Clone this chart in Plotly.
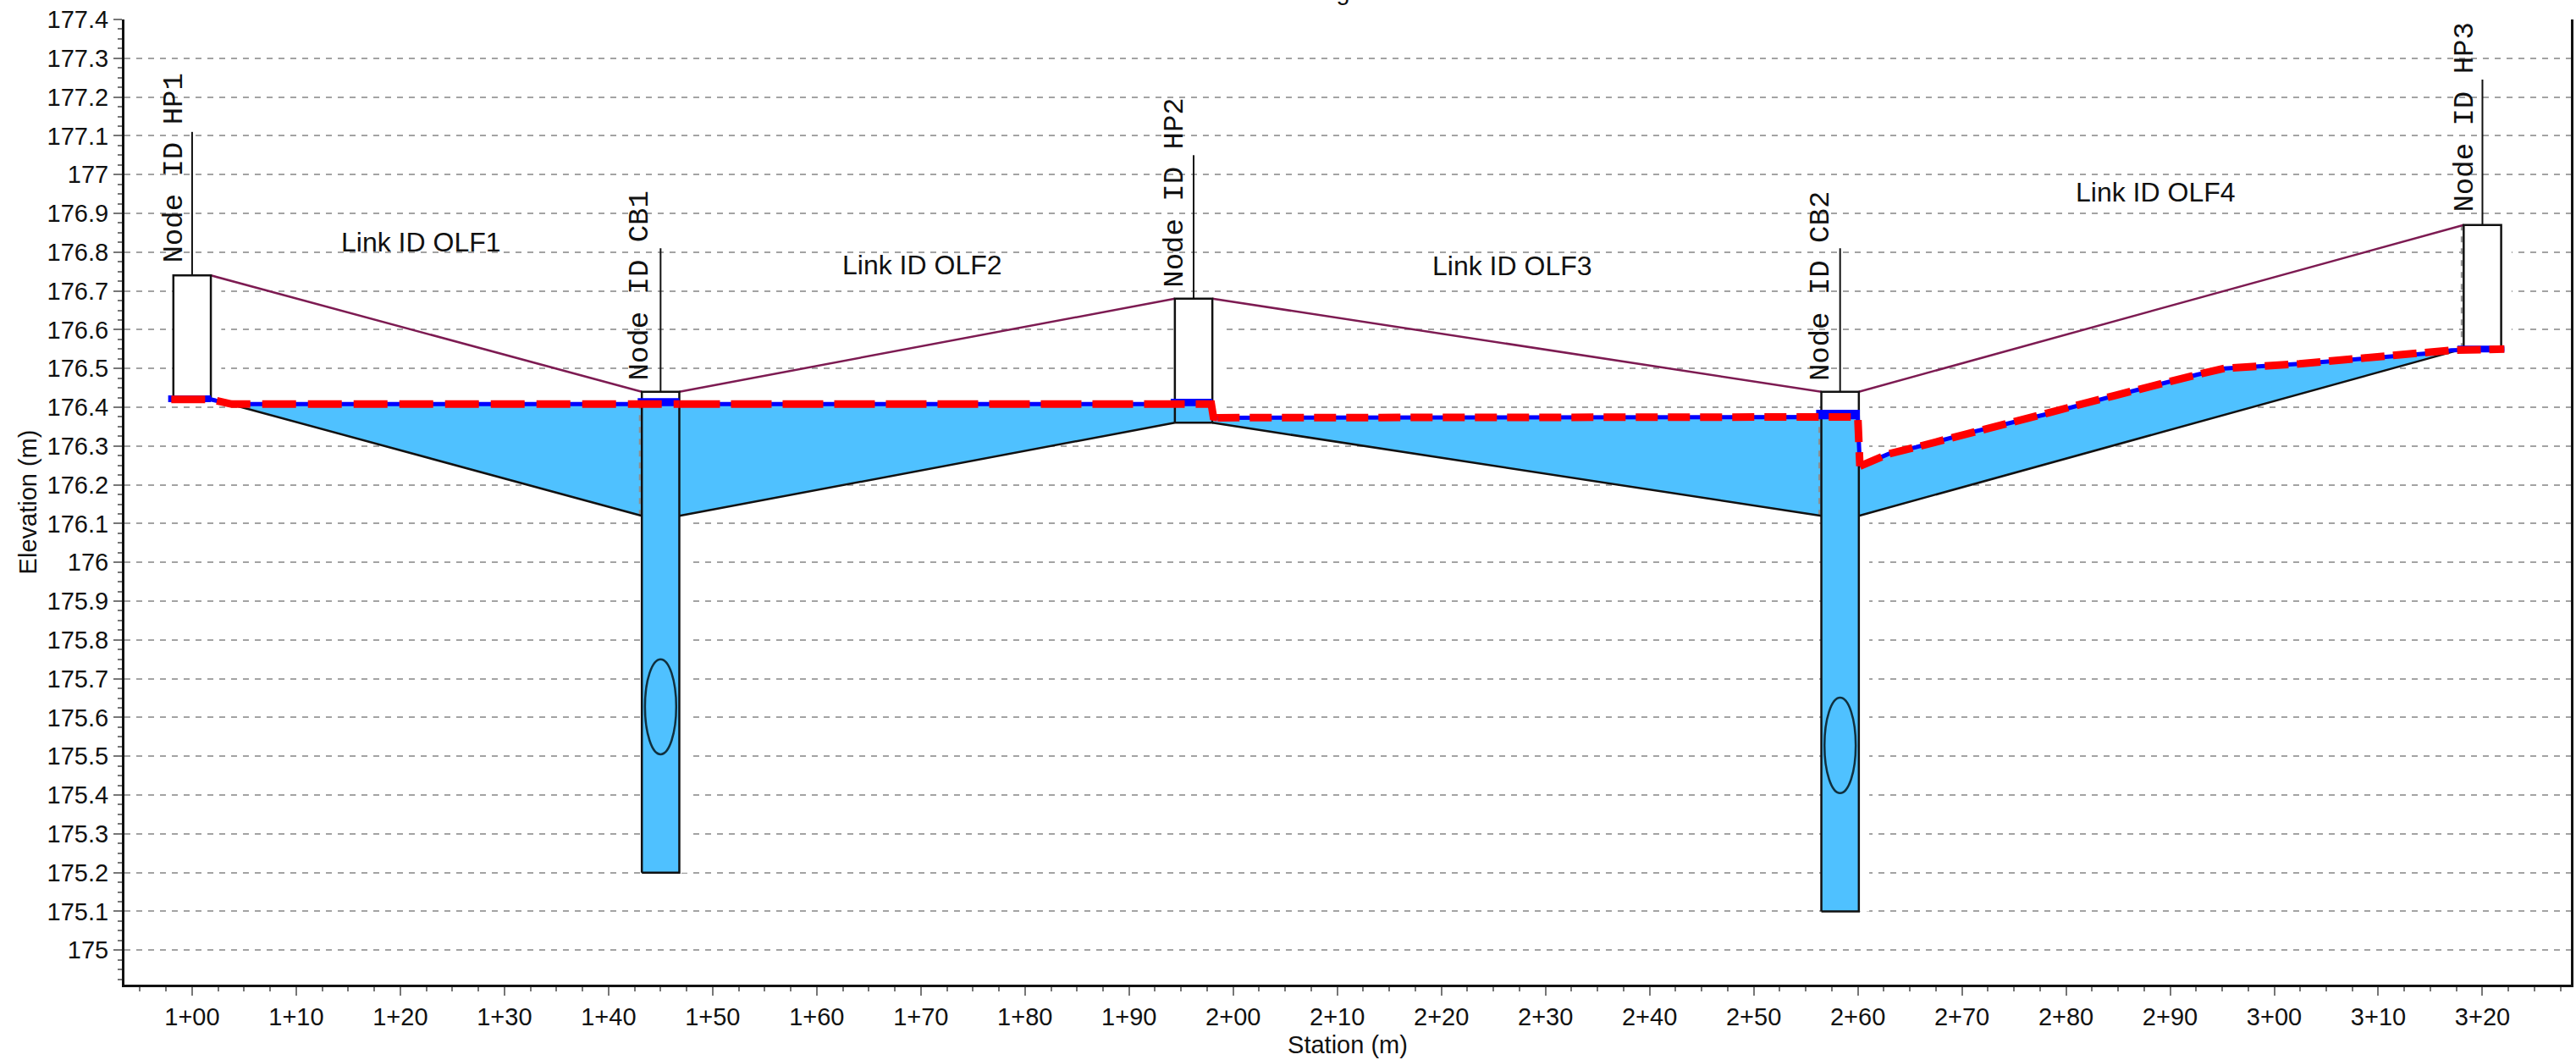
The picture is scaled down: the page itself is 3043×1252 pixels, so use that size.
import plotly.graph_objects as go

# ---------- axis ticks ----------
station_ticks = [100 + 10 * i for i in range(23)]
station_labels = ["1+00","1+10","1+20","1+30","1+40","1+50","1+60","1+70","1+80","1+90",
                  "2+00","2+10","2+20","2+30","2+40","2+50","2+60","2+70","2+80","2+90",
                  "3+00","3+10","3+20"]
elev_ticks = [175,175.1,175.2,175.3,175.4,175.5,175.6,175.7,175.8,175.9,
              176,176.1,176.2,176.3,176.4,176.5,176.6,176.7,176.8,176.9,
              177,177.1,177.2,177.3,177.4]
elev_labels = ["175","175.1","175.2","175.3","175.4","175.5","175.6","175.7","175.8","175.9",
               "176","176.1","176.2","176.3","176.4","176.5","176.6","176.7","176.8","176.9",
               "177","177.1","177.2","177.3","177.4"]

# ---------- nodes ----------
node_names  = ["HP1","CB1","HP2","CB2","HP3"]
node_left   = [98.2,143.2,194.4,256.5,318.2]
node_right  = [101.8,146.8,198.0,260.1,321.8]
node_stick  = [100.0,145.0,196.2,258.3,320.0]
node_top    = [176.74,176.44,176.68,176.44,176.87]
node_bottom = [176.42,175.2,176.36,175.1,176.55]
node_stick_top = [177.11,176.81,177.05,176.81,177.245]
node_label_x = [98.3,143.0,194.4,256.4,318.3]
node_label_y = [176.77,176.466,176.706,176.466,176.90]
node_water  = [176.422,176.415,176.413,176.385,176.55]
node_water_from = [97.7,142.8,194.0,256.0,317.6]
node_water_to   = [101.8,146.8,198.0,260.2,322.1]

# ---------- links ----------
link_names = ["Link ID OLF1","Link ID OLF2","Link ID OLF3","Link ID OLF4"]
link_label_x = [122.0,170.1,226.8,288.6]
link_label_y = [176.826,176.767,176.765,176.955]
ground_x = [[101.8,143.2],[146.8,194.4],[198.0,256.5],[260.1,318.2]]
ground_y = [[176.74,176.44],[176.44,176.68],[176.68,176.44],[176.44,176.87]]
invert_x = [[103.4,143.2],[146.8,194.4],[198.0,256.5],[260.1,317.4]]
invert_y = [[176.41,176.12],[176.12,176.36],[176.36,176.12],[176.12,176.545]]

# ---------- water surface per link ----------
hgl1_x = [98.0,101.8,103.8,143.2,146.8]
hgl1_y = [176.42,176.42,176.408,176.408,176.408]
hgl2_x = [146.8,194.4,197.9,198.1,198.5]
hgl2_y = [176.408,176.408,176.408,176.375,176.373]
hgl3_x = [198.5,256.5,260.0,260.2]
hgl3_y = [176.373,176.375,176.375,176.248]
hgl4_x = [260.2,263.0,265.6,271.3,278.1,284.8,292.6,295.2,302.4,308.1,314.9,317.0,322.1]
hgl4_y = [176.248,176.28,176.297,176.338,176.382,176.431,176.484,176.50,176.512,176.524,176.539,176.547,176.55]
hgl_dash = ["40px,14px","48px,13px","26px,12px","28px,10px"]

# ---------- pipes in the catch basins ----------
pipe_x0 = [143.5,256.8]
pipe_x1 = [146.5,259.8]
pipe_y0 = [175.505,175.405]
pipe_y1 = [175.75,175.651]

GRID = "#a3a3a3"
WATER = "#4FC1FF"
fig = go.Figure()

def add(x, y, **kw):
    fig.add_trace(go.Scatter(x=x, y=y, hoverinfo="skip", showlegend=False, **kw))

# white node boxes hide the grid lines (with a small halo to the right)
for i in range(5):
    r = node_right[i] + 1.0
    add([node_left[i], r, r, node_left[i], node_left[i]],
        [node_top[i], node_top[i], node_bottom[i], node_bottom[i], node_top[i]],
        mode="none", fill="toself", fillcolor="white")

# water body along the links
for hx, hy, ix, iy in [(hgl1_x[2:4], hgl1_y[2:4], invert_x[0], invert_y[0]),
                       (hgl2_x[:2], hgl2_y[:2], invert_x[1], invert_y[1]),
                       (hgl3_x[:2], hgl3_y[:2], invert_x[2], invert_y[2]),
                       (hgl4_x, hgl4_y, invert_x[3], invert_y[3])]:
    add(list(hx) + list(ix)[::-1], list(hy) + list(iy)[::-1],
        mode="none", fill="toself", fillcolor=WATER)

# water inside the nodes
for i in range(5):
    if node_names[i] == "HP1":
        continue
    top = node_water[i] - 0.006
    l, r = node_left[i], node_right[i]
    add([l, r, r, l, l], [top, top, node_bottom[i], node_bottom[i], top],
        mode="none", fill="toself", fillcolor=WATER)

# pale dashed strips left of some box walls
for i, low in [(1, 176.12), (3, 176.12), (4, 176.55)]:
    hi = node_top[i] if i == 4 else node_water[i]
    add([node_left[i] - 0.2, node_left[i] - 0.2], [low, hi], mode="lines",
        line=dict(color="#8f8f8f", width=2, dash="7px,7px"))

# ground line and invert line
for i in range(4):
    add(invert_x[i], invert_y[i], mode="lines", line=dict(color="#111111", width=2.5))
    add(ground_x[i], ground_y[i], mode="lines", line=dict(color="#7d1b52", width=2.5))

# node boxes and sticks
for i in range(5):
    l, r = node_left[i], node_right[i]
    add([l, l, r, r, l],
        [node_bottom[i], node_top[i], node_top[i], node_bottom[i], node_bottom[i]],
        mode="lines", line=dict(color="#111111", width=2.5))
    add([node_stick[i], node_stick[i]], [node_top[i], node_stick_top[i]],
        mode="lines", line=dict(color="#111111", width=2))

# water surface: blue under red dashes
all_hgl = [(hgl1_x, hgl1_y), (hgl2_x, hgl2_y), (hgl3_x, hgl3_y), (hgl4_x, hgl4_y)]
for hx, hy in all_hgl:
    add(hx, hy, mode="lines", line=dict(color="#0000FF", width=5))
for i in range(5):
    add([node_water_from[i], node_water_to[i]], [node_water[i], node_water[i]],
        mode="lines", line=dict(color="#0000FF", width=8))
for (hx, hy), d in zip(all_hgl, hgl_dash):
    add(hx, hy, mode="lines", line=dict(color="#FF0000", width=9, dash=d))

annotations = []
for name, x, y in zip(link_names, link_label_x, link_label_y):
    annotations.append(dict(x=x, y=y, text=name, showarrow=False, xanchor="center", yanchor="middle",
                            font=dict(family="Liberation Sans", size=32, color="#111111")))
for name, x, y in zip(node_names, node_label_x, node_label_y):
    annotations.append(dict(x=x, y=y, text="Node ID " + name, showarrow=False, textangle=-90,
                            xanchor="center", yanchor="bottom", borderpad=0,
                            font=dict(family="Liberation Mono", size=34, color="#111111")))
annotations.append(dict(xref="paper", yref="paper", x=0.4837, y=1, yshift=16, borderpad=0,
                        text="Two Year Design Storm", showarrow=False, xanchor="center", yanchor="bottom",
                        font=dict(family="Liberation Sans", size=29, color="#111111")))

shapes = [dict(type="circle", xref="x", yref="y", x0=a, x1=b, y0=c, y1=d,
               line=dict(color="#10303f", width=2.5), fillcolor="rgba(0,0,0,0)")
          for a, b, c, d in zip(pipe_x0, pipe_x1, pipe_y0, pipe_y1)]

fig.update_layout(
    width=3043, height=1252, autosize=False,
    margin=dict(l=147, r=3, t=23, b=89, pad=0),
    paper_bgcolor="white", plot_bgcolor="white",
    font=dict(family="Liberation Sans", size=29, color="#111111"),
    showlegend=False, hovermode=False,
    annotations=annotations, shapes=shapes,
    xaxis=dict(range=[93.5, 328.5], tickmode="array", tickvals=station_ticks, ticktext=station_labels,
               showgrid=False, zeroline=False, showline=True, linecolor="#111111", linewidth=3,
               ticks="outside", ticklen=10, tickwidth=2, tickcolor="#777777",
               tickfont=dict(size=29, color="#111111"),
               minor=dict(tick0=100, dtick=2.5, ticks="outside", ticklen=5, tickwidth=2,
                          tickcolor="#777777", showgrid=False),
               title=dict(text="Station (m)", standoff=8, font=dict(size=29, color="#111111"))),
    yaxis=dict(range=[174.911, 177.4], tickmode="array", tickvals=elev_ticks, ticktext=elev_labels,
               showgrid=True, gridcolor=GRID, gridwidth=2, griddash="7px,7px",
               zeroline=False, showline=True, mirror=True, linecolor="#111111", linewidth=3,
               ticks="outside", ticklen=10, tickwidth=2, tickcolor="#777777",
               tickfont=dict(size=29, color="#111111"),
               minor=dict(tick0=175, dtick=0.025, ticks="outside", ticklen=5, tickwidth=2,
                          tickcolor="#777777", showgrid=False),
               title=dict(text="Elevation (m)", standoff=4, font=dict(size=29, color="#111111"))),
)

fig.write_html("out.html", config={"displayModeBar": False},
               post_script="document.body.style.margin='0';document.body.style.overflow='hidden';")
